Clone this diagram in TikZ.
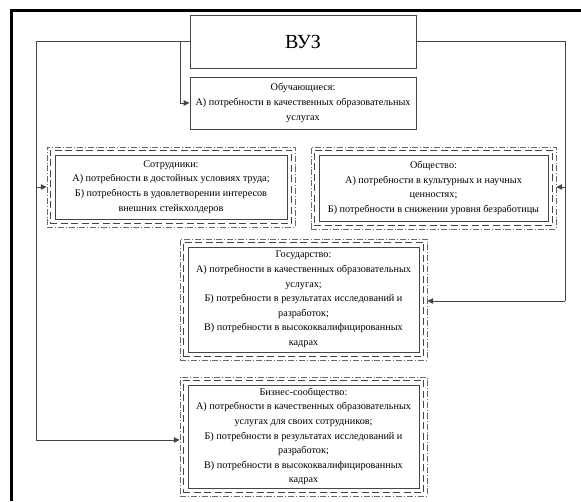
\documentclass[tikz,border=0pt]{standalone}
\usepackage{fontspec}
\setmainfont{Liberation Serif}
\usepackage{tikz}
\usetikzlibrary{arrows.meta,positioning,fit,shadows}
\definecolor{ink}{HTML}{444444}
\definecolor{frame}{HTML}{000000}

\begin{document}
\begin{tikzpicture}[x=1pt,y=-1pt,>={Triangle[length=6pt,width=5.5pt]},
  need/.style={draw=ink,line width=0.9pt,fill=white,align=center,inner sep=2pt,
               font=\fontsize{10.2}{14.6}\selectfont,
               drop shadow={shadow xshift=1.3pt,shadow yshift=-1.3pt,fill=black!30,opacity=1}},
  dashring/.style={draw=ink,line width=1pt,dash pattern=on 7pt off 3.5pt,inner sep=4.5pt},
  dotring/.style={draw=ink!80,line width=0.5pt,dash pattern=on 6pt off 2pt on 0.8pt off 2pt,inner sep=7.5pt},
  link/.style={draw=ink,line width=1pt}]

\useasboundingbox (0,0) rectangle (581,501);
\fill[frame] (10,9) rectangle (581,12);
\fill[frame] (10,9) rectangle (13,501);

% top row
\node[need,minimum width=226pt,minimum height=53pt,font=\fontsize{20}{24}\selectfont] (vuz) at (303,41.5) {ВУЗ};
\node[need,minimum width=226pt,minimum height=52pt] (stud) at (303,103)
  {Обучающиеся:\\ А) потребности в качественных образовательных\\ услугах};

% stakeholders with double frames
\node[need,minimum width=232pt,minimum height=64pt] (staff) at (171,187)
  {Сотрудники:\\ А) потребности в достойных условиях труда;\\ Б) потребность в удовлетворении интересов\\ внешних стейкхолдеров};
\node[need,minimum width=229pt,minimum height=66pt] (soc) at (433.5,188)
  {Общество:\\ А) потребности в культурных и научных\\ ценностях;\\ Б) потребности в снижении уровня безработицы};
\node[need,minimum width=231pt,minimum height=105pt] (gov) at (303.5,299.5)
  {Государство:\\ А) потребности в качественных образовательных\\ услугах;\\ Б) потребности в результатах исследований и\\ разработок;\\ В) потребности в высококвалифицированных\\ кадрах};
\node[need,minimum width=231pt,minimum height=103pt] (biz) at (303.5,436.5)
  {Бизнес-сообщество:\\ А) потребности в качественных образовательных\\ услугах для своих сотрудников;\\ Б) потребности в результатах исследований и\\ разработок;\\ В) потребности в высококвалифицированных\\ кадрах};

\foreach \n in {staff,soc,gov,biz}{
  \node[dashring,fit=(\n)] (\n D) {};
  \node[dotring,fit=(\n)] (\n F) {};
}

% connectors
\coordinate (lt) at (36,41.5);
\coordinate (lb) at (36,440);
\coordinate (rt) at (565,41.5);
\coordinate (rb) at (565,301);
\coordinate (br) at (180,41.5);

\draw[link] (vuz.west) -- (lt) -- (lb);
\draw[link,->] (lb) -- (lb -| bizF.west);
\draw[link,->] (36,187) -- (36,187 -| staffF.west);
\draw[link,->] (br) |- (stud.west);
\draw[link] (vuz.east) -- (rt) -- (rb);
\draw[link,->] (rb) -- (rb -| govF.east);
\draw[link,->] (565,187) -- (565,187 -| socF.east);
\end{tikzpicture}
\end{document}
